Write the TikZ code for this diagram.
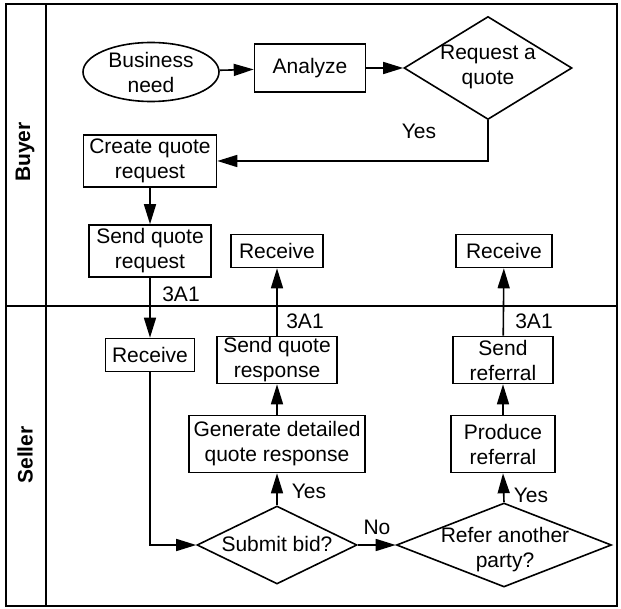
\documentclass[tikz,border=0pt]{standalone}
\usepackage{fontspec}
\setmainfont{Liberation Sans}
\usetikzlibrary{shapes.geometric,arrows.meta}

\begin{document}
\begin{tikzpicture}[x=0.5pt,y=-0.5pt,line width=0.8pt,
    font=\fontsize{10.5}{12.5}\selectfont,
    box/.style={draw,inner sep=0pt,align=center},
    decision/.style={draw,diamond,inner sep=0pt},
    txt/.style={inner sep=0pt,align=center},
    flow/.style={-{Triangle[length=10pt,width=6pt]}}]
    \useasboundingbox (0,0) rectangle (621,609);
    % lanes
    \draw[line width=0.9pt] (6,4) rectangle (617,606);
    \draw[line width=0.9pt] (46,4) -- (46,606) (6,306) -- (617,306);
    \node[txt,rotate=90,font=\fontsize{10.5}{12.5}\selectfont\bfseries] (buyer) at (25,152) {Buyer};
    \node[txt,rotate=90,font=\fontsize{10.5}{12.5}\selectfont\bfseries] (seller) at (25,455) {Seller};
    % buyer
    \node[draw,ellipse,inner sep=0pt,align=center,minimum width=68pt,minimum height=29.5pt] (need) at (151,72) {Business\\need};
    \node[box,minimum width=55.5pt,minimum height=24pt] (analyze) at (310,68) {Analyze};
    \node[decision,minimum width=84pt,minimum height=51.5pt] (ask) at (488,68) {};
    \node[txt] (askt) at (488,67) {Request a\\quote};
    \node[box,minimum width=66.5pt,minimum height=26pt] (create) at (150,161) {Create quote\\request};
    \node[box,minimum width=61pt,minimum height=26pt] (sendreq) at (150,251) {Send quote\\request};
    \node[box,minimum width=46pt,minimum height=16.5pt] (brecv1) at (277,251) {Receive};
    \node[box,minimum width=48pt,minimum height=16.5pt] (brecv2) at (504,251) {Receive};
    % seller
    \node[box,minimum width=44.5pt,minimum height=16.5pt] (srecv) at (150,355) {Receive};
    \node[box,minimum width=60pt,minimum height=23.5pt] (sendresp) at (277,360) {Send quote\\response};
    \node[box,minimum width=88pt,minimum height=28.5pt] (gen) at (277,444) {Generate detailed\\quote response};
    \node[decision,minimum width=80pt,minimum height=39pt] (bid) at (277,545) {};
    \node[txt] (bidt) at (277,544) {Submit bid?};
    \node[box,minimum width=50pt,minimum height=23.5pt] (sendref) at (503,360) {Send\\referral};
    \node[box,minimum width=52pt,minimum height=28.5pt] (produce) at (503,444) {Produce\\referral};
    \node[decision,minimum width=107.5pt,minimum height=42pt] (refer) at (504,545) {};
    \node[txt] (refert) at (505,550) {Refer another\\party?};
    % connectors
    \draw[flow] (need) -- (analyze);
    \draw[flow] (analyze) -- (ask);
    \draw[flow] (ask.south) |- (create.east);
    \draw[flow] (create) -- (sendreq);
    \draw[flow] (sendreq) -- (srecv);
    \draw[flow] (srecv.south) |- (bid.west);
    \draw[flow] (bid) -- (refer);
    \draw[flow] (bid.north) -- (gen.south);
    \draw[flow] (gen) -- (sendresp);
    \draw[flow] (sendresp) -- (brecv1);
    \draw[flow] (refer.north) -- (produce.south);
    \draw[flow] (produce) -- (sendref);
    \draw[flow] (sendref) -- (brecv2);
    % labels
    \node[txt] (yes1) at (419,131) {Yes};
    \node[txt] (yes2) at (309,491) {Yes};
    \node[txt] (yes3) at (531,495) {Yes};
    \node[txt] (no) at (377,527) {No};
    \node[txt] (m1) at (181,294) {3A1};
    \node[txt] (m2) at (305,321) {3A1};
    \node[txt] (m3) at (534,321) {3A1};
\end{tikzpicture}
\end{document}
